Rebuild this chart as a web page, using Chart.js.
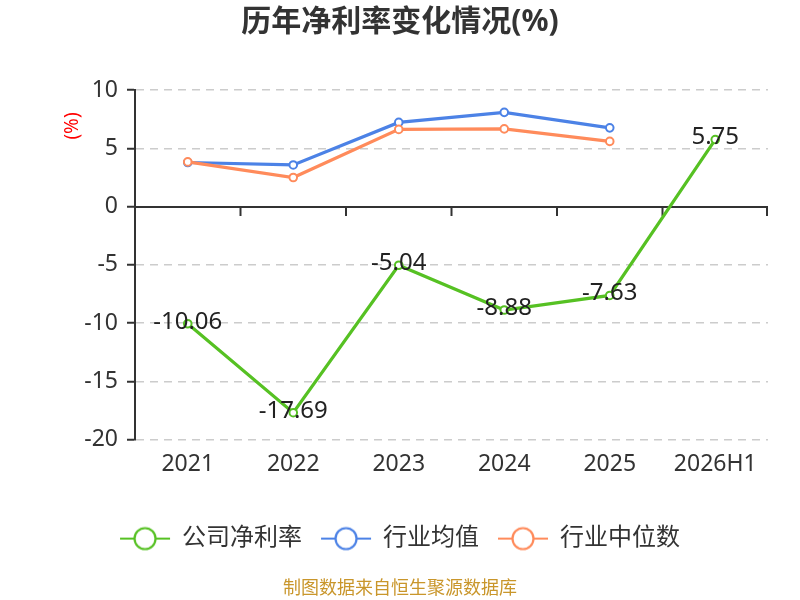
<!DOCTYPE html>
<html>
<head>
<meta charset="utf-8">
<script src="https://cdn.jsdelivr.net/npm/chart.js@4"></script>
<style>
html,body{margin:0;padding:0;background:#fff;}
#wrap{width:800px;height:600px;}
</style>
</head>
<body>
<div id="wrap"><canvas id="c" width="800" height="600"></canvas></div>
<script>
const categories = ['2021', '2022', '2023', '2024', '2025', '2026H1'];
const companyNetMargin = [-10.06, -17.69, -5.04, -8.88, -7.63, 5.75];
const industryMean = [3.78, 3.57, 7.22, 8.08, 6.75, null];
const industryMedian = [3.83, 2.49, 6.62, 6.66, 5.59, null];
const seriesNames = ['公司净利率', '行业均值', '行业中位数'];
const yTicks = [-20, -15, -10, -5, 0, 5, 10];

const COLORS = ['#56c123', '#4c82e6', '#ff8b5b'];
const FONT = "'Noto Sans', 'Noto Sans CJK SC', sans-serif";

function markerCanvas(color) {
  const c = document.createElement('canvas');
  c.width = 52; c.height = 28;
  const g = c.getContext('2d');
  g.strokeStyle = color; g.lineWidth = 2;
  g.beginPath(); g.moveTo(1, 14); g.lineTo(51, 14); g.stroke();
  g.beginPath(); g.arc(26, 14, 10.5, 0, Math.PI * 2);
  g.fillStyle = '#fff'; g.fill();
  g.lineWidth = 2.2; g.stroke();
  return c;
}
const markers = COLORS.map(markerCanvas);

const zeroAxisPlugin = {
  id: 'zeroAxis',
  beforeDatasetsDraw(chart) {
    const {ctx, chartArea} = chart;
    const ys = chart.scales.y, xs = chart.scales.x;
    const y0 = Math.round(ys.getPixelForValue(0));
    ctx.save();
    ctx.strokeStyle = '#333';
    ctx.lineWidth = 2;
    ctx.beginPath();
    ctx.moveTo(chartArea.left, y0);
    ctx.lineTo(chartArea.right, y0);
    ctx.stroke();
    const n = categories.length;
    for (let i = 0; i <= n; i++) {
      let x;
      if (i === 0) x = chartArea.left;
      else if (i === n) x = chartArea.right - 1;
      else x = (xs.getPixelForValue(i - 1) + xs.getPixelForValue(i)) / 2;
      ctx.beginPath();
      ctx.moveTo(x, y0);
      ctx.lineTo(x, y0 + 9);
      ctx.stroke();
    }
    ctx.restore();
  },
  afterDatasetsDraw(chart) {
    const {ctx} = chart;
    const meta = chart.getDatasetMeta(0);
    ctx.save();
    ctx.font = '24px ' + FONT;
    ctx.fillStyle = '#222';
    ctx.textAlign = 'center';
    ctx.textBaseline = 'middle';
    meta.data.forEach((pt, i) => {
      const v = companyNetMargin[i];
      if (v === null) return;
      ctx.fillText(v.toFixed(2), pt.x, pt.y - 2);
    });
    ctx.restore();
  },
  afterDraw(chart) {
    const {ctx} = chart;
    ctx.save();
    ctx.translate(73, 126);
    ctx.rotate(-Math.PI / 2);
    ctx.font = '19px ' + FONT;
    ctx.fillStyle = '#ff0000';
    ctx.textAlign = 'center';
    ctx.textBaseline = 'middle';
    ctx.fillText('(%)', 0, 0);
    ctx.restore();
  }
};

new Chart(document.getElementById('c'), {
  type: 'line',
  data: {
    labels: categories,
    datasets: [
      { label: seriesNames[0], data: companyNetMargin, borderColor: COLORS[0], order: 0 },
      { label: seriesNames[1], data: industryMean, borderColor: COLORS[1], order: 2 },
      { label: seriesNames[2], data: industryMedian, borderColor: COLORS[2], order: 1 }
    ].map(d => Object.assign(d, {
      backgroundColor: '#fff',
      pointBackgroundColor: '#fff',
      pointBorderColor: d.borderColor,
      borderWidth: 3.2,
      pointRadius: 3.8,
      pointBorderWidth: 2,
      tension: 0,
      spanGaps: false
    }))
  },
  options: {
    responsive: false,
    animation: false,
    devicePixelRatio: 1,
    layout: { padding: { left: 0, right: 0, top: 0, bottom: 0 } },
    plugins: {
      tooltip: { enabled: false },
      title: {
        display: true,
        text: '历年净利率变化情况(%)',
        color: '#333',
        font: { family: FONT, size: 30, weight: 'bold' },
        padding: { top: 4, bottom: 50 }
      },
      subtitle: {
        display: true,
        position: 'bottom',
        text: '制图数据来自恒生聚源数据库',
        color: '#c9962b',
        font: { family: FONT, size: 18 },
        padding: { top: 17.8, bottom: 0 }
      },
      legend: {
        display: true,
        position: 'bottom',
        labels: {
          usePointStyle: true,
          pointStyleWidth: 50,
          padding: 19,
          color: '#333',
          font: { family: FONT, size: 24 },
          generateLabels(chart) {
            return chart.data.datasets.map((ds, i) => ({
              text: ds.label,
              fillStyle: '#fff',
              strokeStyle: ds.borderColor,
              fontColor: '#333',
              pointStyle: markers[i],
              hidden: false,
              datasetIndex: i,
              lineWidth: 0
            }));
          }
        }
      }
    },
    scales: {
      x: {
        offset: true,
        grid: { display: false },
        border: { display: false },
        ticks: { color: '#333', font: { family: FONT, size: 23 }, padding: 3 },
        afterFit(s) { s.height = 68; }
      },
      y: {
        min: -20,
        max: 10,
        afterBuildTicks(s) { s.ticks = yTicks.map(v => ({ value: v })); },
        ticks: { color: '#333', font: { family: FONT, size: 23 }, padding: 9 },
        grid: {
          color: c => (c.tick && c.tick.value === 0) ? 'rgba(0,0,0,0)' : '#cccccc',
          lineWidth: 1.5,
          tickColor: '#333',
          tickWidth: 2,
          tickLength: 8,
          tickBorderDash: []
        },
        border: { display: true, color: '#333', width: 2, dash: [8, 6] },
        afterFit(s) { s.width = 135; }
      },
      y2: {
        position: 'right',
        display: true,
        grid: { display: false },
        border: { display: false },
        ticks: { display: false },
        afterFit(s) { s.width = 32; }
      }
    }
  },
  plugins: [zeroAxisPlugin]
});
</script>
</body>
</html>
